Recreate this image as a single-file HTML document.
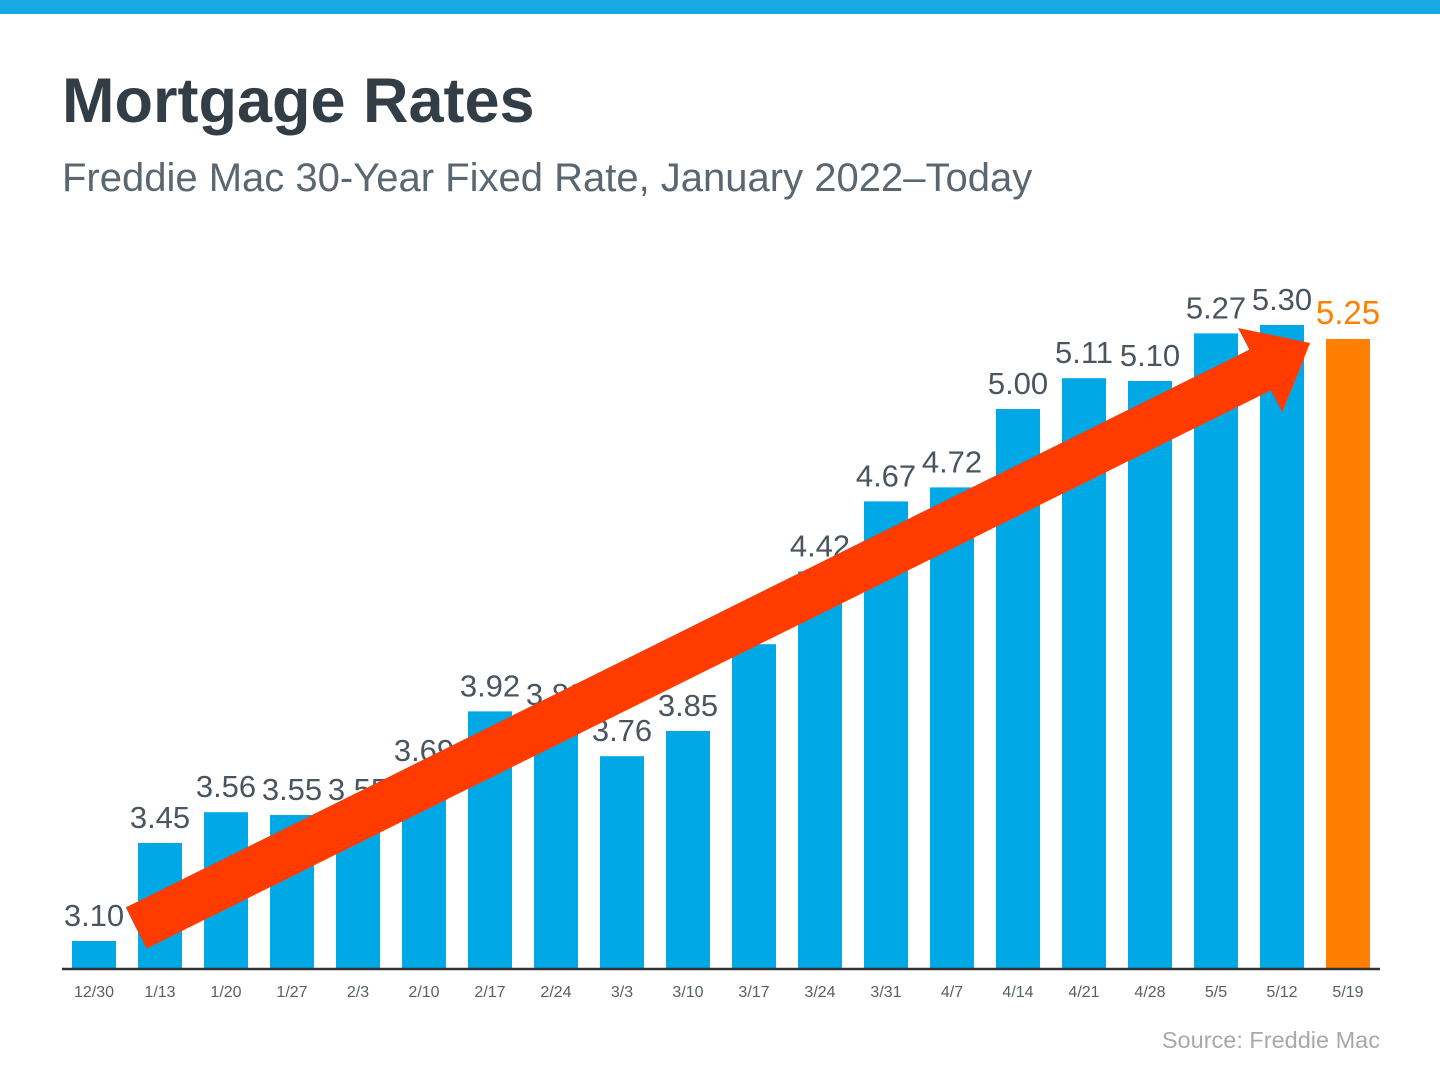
<!DOCTYPE html>
<html><head><meta charset="utf-8"><style>
body{margin:0;width:1440px;height:1080px;background:#fff;overflow:hidden;font-family:"Liberation Sans",Arial,sans-serif}
</style></head><body>
<svg width="1440" height="1080">
<rect x="0" y="0" width="1440" height="14" fill="#16a9e6"/>
<text x="62" y="122" font-size="63" font-weight="bold" fill="#333d45">Mortgage Rates</text>
<text x="62" y="191" font-size="40" fill="#5b6770">Freddie Mac 30-Year Fixed Rate, January 2022–Today</text>
<g id="bars"></g>
<line x1="62" y1="969" x2="1380" y2="969" stroke="#333" stroke-width="2.5"/>
<g id="arrow"></g>
<text x="1380" y="1048" font-size="23.5" fill="#a5aaae" text-anchor="end">Source: Freddie Mac</text>
</svg>
<script>
const categories=["12/30","1/13","1/20","1/27","2/3","2/10","2/17","2/24","3/3","3/10","3/17","3/24","3/31","4/7","4/14","4/21","4/28","5/5","5/12","5/19"];
const values=[3.10,3.45,3.56,3.55,3.55,3.69,3.92,3.89,3.76,3.85,4.16,4.42,4.67,4.72,5.00,5.11,5.10,5.27,5.30,5.25];
const NS="http://www.w3.org/2000/svg";
const base=969, yMin=3.0, pxPerUnit=280;
const y=v=>base-(v-yMin)*pxPerUnit;
const x=i=>94+66*i;
const g=document.getElementById('bars');
values.forEach((v,i)=>{
  const last=i===values.length-1;
  const r=document.createElementNS(NS,'rect');
  r.setAttribute('x',x(i)-22);r.setAttribute('y',y(v));r.setAttribute('width',44);r.setAttribute('height',base-y(v));
  r.setAttribute('fill',last?'#ff8000':'#00a8e6');
  
  
  g.appendChild(r);
  const t=document.createElementNS(NS,'text');
  t.setAttribute('x',x(i));t.setAttribute('y',y(v)-15);t.setAttribute('text-anchor','middle');
  t.setAttribute('font-size',last?33:31);t.setAttribute('fill',last?'#ff8000':'#4a5560');
  t.textContent=v.toFixed(2);
  
  
  g.appendChild(t);
  const c=document.createElementNS(NS,'text');
  c.setAttribute('x',x(i));c.setAttribute('y',997);c.setAttribute('text-anchor','middle');
  c.setAttribute('font-size',16);c.setAttribute('fill','#555f66');
  c.textContent=categories[i];
  
  
  g.appendChild(c);
});
const a=document.getElementById('arrow');
const ln=document.createElementNS(NS,'line');
ln.setAttribute('x1',136);ln.setAttribute('y1',928);ln.setAttribute('x2',1262);ln.setAttribute('y2',369);
ln.setAttribute('stroke','#ff3b00');ln.setAttribute('stroke-width',46);


a.appendChild(ln);
const hd=document.createElementNS(NS,'polygon');
hd.setAttribute('points','1310,343 1238,328 1282,412');
hd.setAttribute('fill','#ff3b00');


a.appendChild(hd);
</script>
</body></html>
